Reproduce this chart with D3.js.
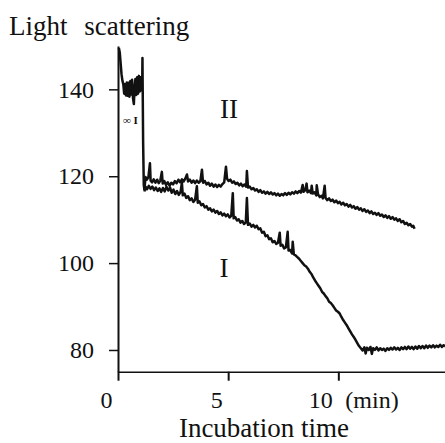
<!DOCTYPE html>
<html>
<head>
<meta charset="utf-8">
<script src="https://cdn.jsdelivr.net/npm/d3@7"></script>
<style>
  body { margin: 0; background: #fff; }
  svg { display: block; font-family: 'Liberation Serif', 'DejaVu Serif', serif; }
  .trace { fill: none; stroke: #111; stroke-width: 2.5; stroke-linejoin: round; }
  .axis path, .axis line { stroke: #111; }
</style>
</head>
<body>
<div id="chart"></div>
<script>
// minutes, light scattering
const initialTrace = [
  [0.04, 149.5], [0.08, 148.5], [0.12, 146], [0.16, 143.5], [0.2, 142], [0.24, 141.2],
  [0.28, 139.0], [0.32, 141.2], [0.36, 138.6], [0.4, 141.6], [0.44, 138.5], [0.48, 141.5],
  [0.52, 138.3], [0.56, 141.9], [0.6, 138.8], [0.64, 142.2], [0.68, 138.0], [0.72, 136.6],
  [0.75, 140.2], [0.79, 142.4], [0.83, 138.7], [0.87, 142.8], [0.91, 139.0], [0.95, 143.1],
  [0.99, 139.5], [1.03, 142.8], [1.07, 139.8], [1.1, 141.5], [1.11, 147.2], [1.14, 128],
  [1.17, 118.0], [1.2, 116.8],
];

const traceII = [
  [1.2, 117.0], [1.25, 119.8], [1.31, 119.2], [1.38, 119.8], [1.45, 123.0], [1.48, 119.0],
  [1.55, 118.6], [1.62, 119.3], [1.7, 118.5], [1.78, 119.2], [1.85, 118.4], [1.92, 119.0],
  [1.99, 121.0], [2.03, 118.3], [2.1, 118.9], [2.18, 118.0], [2.26, 118.6], [2.34, 117.8],
  [2.42, 118.5], [2.5, 118.1], [2.58, 118.9], [2.66, 118.4], [2.74, 119.2], [2.82, 118.6],
  [2.9, 119.3], [2.98, 118.8], [3.06, 119.5], [3.13, 120.4], [3.18, 118.8], [3.26, 119.2],
  [3.34, 118.5], [3.42, 119.0], [3.5, 118.4], [3.58, 119.0], [3.66, 118.5], [3.74, 118.9],
  [3.81, 121.5], [3.86, 118.5], [3.94, 118.9], [4.02, 118.1], [4.1, 118.5], [4.18, 117.8],
  [4.26, 118.3], [4.34, 117.6], [4.42, 118.1], [4.5, 117.5], [4.58, 118.0], [4.66, 117.6],
  [4.74, 118.2], [4.82, 118.6], [4.9, 122.2], [4.95, 119.4], [5.02, 118.9], [5.1, 119.2],
  [5.18, 118.5], [5.26, 118.8], [5.34, 118.2], [5.42, 118.5], [5.5, 117.9], [5.58, 118.3],
  [5.66, 117.7], [5.74, 118.1], [5.82, 117.6], [5.85, 121.2], [5.9, 117.4], [5.98, 117.6],
  [6.06, 117.0], [6.14, 117.3], [6.22, 116.7], [6.3, 117.0], [6.38, 116.4], [6.46, 116.8],
  [6.54, 116.2], [6.62, 116.5], [6.7, 116.0], [6.78, 116.4], [6.86, 115.9], [6.94, 116.3],
  [7.02, 115.8], [7.1, 116.1], [7.18, 115.6], [7.26, 116.0], [7.34, 115.5], [7.42, 115.9],
  [7.5, 115.6], [7.58, 116.1], [7.66, 115.7], [7.74, 116.2], [7.82, 115.8], [7.9, 116.3],
  [7.98, 116.0], [8.06, 116.5], [8.14, 116.1], [8.22, 116.6], [8.3, 116.2], [8.38, 118.0],
  [8.42, 116.4], [8.5, 116.8], [8.56, 118.3], [8.6, 116.3], [8.68, 116.7], [8.76, 116.1],
  [8.79, 117.8], [8.84, 116.0], [8.92, 116.3], [9.0, 115.6], [9.02, 117.9], [9.08, 115.8],
  [9.16, 115.2], [9.24, 115.5], [9.3, 114.9], [9.38, 117.8], [9.42, 115.0], [9.5, 114.5],
  [9.58, 114.9], [9.66, 114.3], [9.74, 114.6], [9.82, 114.0], [9.9, 114.4], [9.98, 113.8],
  [10.06, 114.1], [10.14, 113.5], [10.22, 113.9], [10.3, 113.3], [10.38, 113.6], [10.46, 113.0],
  [10.54, 113.4], [10.62, 112.8], [10.7, 113.1], [10.78, 112.5], [10.86, 112.9], [10.94, 112.3],
  [11.02, 112.6], [11.1, 112.0], [11.18, 112.4], [11.26, 111.8], [11.34, 112.1], [11.42, 111.5],
  [11.5, 111.9], [11.58, 111.3], [11.66, 111.6], [11.74, 111.1], [11.82, 111.5], [11.9, 110.9],
  [11.98, 111.2], [12.06, 110.6], [12.14, 111.0], [12.22, 110.4], [12.3, 110.8], [12.38, 110.2],
  [12.46, 110.6], [12.54, 110.0], [12.62, 110.3], [12.7, 109.7], [12.78, 110.1], [12.86, 109.4],
  [12.94, 109.7], [13.02, 109.0], [13.1, 109.3], [13.18, 108.7], [13.26, 109.0], [13.34, 108.4],
  [13.4, 108.6], [13.46, 107.9],
];

const traceI = [
  [1.2, 116.5], [1.25, 117.6], [1.32, 117.0], [1.4, 117.8], [1.48, 117.1], [1.56, 117.6],
  [1.64, 116.8], [1.72, 117.4], [1.8, 116.6], [1.88, 117.2], [1.96, 116.4], [2.04, 117.3],
  [2.12, 116.5], [2.2, 117.6], [2.28, 116.7], [2.36, 117.4], [2.44, 116.2], [2.52, 116.9],
  [2.6, 115.9], [2.68, 116.6], [2.76, 115.7], [2.84, 116.4], [2.9, 118.5], [2.94, 115.6],
  [3.02, 116.0], [3.1, 115.0], [3.18, 115.4], [3.26, 114.5], [3.34, 114.9], [3.42, 114.1],
  [3.5, 114.6], [3.58, 117.7], [3.62, 113.9], [3.7, 114.2], [3.78, 113.3], [3.86, 113.6],
  [3.94, 112.8], [4.02, 113.1], [4.1, 112.3], [4.18, 112.6], [4.26, 111.9], [4.34, 112.3],
  [4.42, 111.6], [4.5, 112.0], [4.58, 111.3], [4.66, 111.7], [4.74, 111.0], [4.82, 111.4],
  [4.9, 110.8], [4.98, 111.2], [5.06, 110.5], [5.14, 110.9], [5.21, 116.1], [5.25, 110.3],
  [5.32, 110.6], [5.4, 109.8], [5.48, 110.1], [5.56, 109.3], [5.64, 109.7], [5.72, 109.0],
  [5.8, 109.4], [5.85, 115.0], [5.9, 108.8], [5.98, 109.1], [6.06, 108.4], [6.14, 108.8],
  [6.22, 108.2], [6.3, 108.6], [6.38, 107.8], [6.46, 108.0], [6.54, 107.0], [6.62, 107.2],
  [6.7, 106.2], [6.78, 106.4], [6.86, 105.5], [6.94, 105.7], [7.02, 104.8], [7.1, 105.1],
  [7.18, 104.4], [7.26, 104.7], [7.34, 107.0], [7.38, 104.0], [7.46, 104.2], [7.54, 103.4],
  [7.62, 103.6], [7.7, 107.2], [7.74, 102.9], [7.82, 103.0], [7.9, 102.2], [7.93, 104.9],
  [7.98, 102.0], [8.06, 101.8], [8.14, 101.4], [8.22, 101.0], [8.3, 100.5], [8.38, 100.0],
  [8.46, 99.5], [8.54, 99.2], [8.62, 98.7], [8.7, 98.0], [8.78, 97.5], [8.86, 96.7],
  [8.94, 96.0], [9.02, 95.4], [9.1, 94.8], [9.18, 94.2], [9.26, 93.4], [9.34, 93.0],
  [9.42, 92.4], [9.5, 91.9], [9.58, 91.1], [9.66, 90.8], [9.74, 90.3], [9.82, 89.7],
  [9.9, 89.1], [9.98, 88.8], [10.06, 88.4], [10.14, 87.6], [10.22, 86.9], [10.3, 86.3],
  [10.38, 85.7], [10.46, 85.0], [10.54, 84.3], [10.62, 83.6], [10.7, 83.0], [10.78, 82.3],
  [10.86, 81.6], [10.94, 80.9], [11.02, 80.4], [11.1, 79.9], [11.18, 80.6], [11.24, 79.2],
  [11.3, 80.5], [11.38, 80.0], [11.46, 80.7], [11.52, 79.1], [11.58, 80.4], [11.66, 80.0],
  [11.74, 80.6], [11.82, 79.9], [11.9, 80.4], [11.98, 80.0], [12.06, 80.3], [12.14, 79.8],
  [12.22, 80.4], [12.3, 80.0], [12.38, 80.5], [12.46, 80.1], [12.54, 80.6], [12.62, 80.1],
  [12.7, 80.5], [12.78, 80.0], [12.86, 80.6], [12.94, 80.2], [13.02, 80.7], [13.1, 80.2],
  [13.18, 80.8], [13.26, 80.3], [13.34, 80.7], [13.42, 80.2], [13.5, 80.8], [13.58, 80.3],
  [13.66, 80.9], [13.74, 80.4], [13.82, 80.9], [13.9, 80.4], [13.98, 81.0], [14.06, 80.5],
  [14.14, 81.0], [14.22, 80.6], [14.3, 81.1], [14.38, 80.6], [14.46, 81.0], [14.54, 80.7],
  [14.62, 81.2], [14.7, 80.7], [14.78, 81.1], [14.84, 80.8],
];

const yTicks = [80, 100, 120, 140];
const xTicks = [0, 5, 10];
const curveLabels = [
  { text: 'II', t: 5.04, v: 133.4 },
  { text: 'I', t: 4.81, v: 96.8 },
];

const width = 445;
const height = 443;

const x = d3.scaleLinear().domain([0, 15]).range([118, 448.5]);
const y = d3.scaleLinear().domain([75, 150]).range([371.7, 45.9]);

const svg = d3.select('#chart')
  .append('svg')
  .attr('width', width)
  .attr('height', height);

// y axis
const yAxis = svg.append('g')
  .attr('class', 'axis axis-y')
  .attr('transform', `translate(${x(0)},0)`)
  .call(d3.axisLeft(y).tickValues(yTicks).tickSize(9).tickSizeOuter(0).tickPadding(15));
yAxis.select('.domain').attr('stroke-width', 2);
yAxis.selectAll('.tick line').attr('stroke-width', 1.5);
yAxis.selectAll('.tick text')
  .attr('font-family', 'Liberation Serif')
  .attr('font-size', 24)
  .attr('fill', '#111');

// x axis
const xAxis = svg.append('g')
  .attr('class', 'axis axis-x')
  .attr('transform', `translate(0,${y(75)})`)
  .call(d3.axisBottom(x).tickValues(xTicks).tickSize(9).tickSizeOuter(0));
xAxis.select('.domain').attr('stroke-width', 1.5);
xAxis.selectAll('.tick line').attr('stroke-width', 2);
xAxis.selectAll('.tick text')
  .attr('font-family', 'Liberation Serif')
  .attr('font-size', 24)
  .attr('fill', '#111')
  .attr('text-anchor', 'end')
  .attr('x', -6)
  .attr('y', 36)
  .attr('dy', 0);

svg.append('text')
  .attr('x', x(10) + 7)
  .attr('y', y(75) + 36)
  .attr('font-size', 24)
  .attr('fill', '#111')
  .text('(min)');

// traces
const line = d3.line()
  .x((d) => x(d[0]))
  .y((d) => y(d[1]));

[initialTrace, traceII, traceI].forEach((trace) => {
  svg.append('path')
    .datum(trace)
    .attr('class', 'trace')
    .attr('d', line);
});

// small mark under the initial trace
svg.append('text')
  .attr('x', 123)
  .attr('y', 124)
  .attr('font-size', 11)
  .attr('font-weight', 'bold')
  .attr('fill', '#111')
  .text('\u221e I');

svg.selectAll('.curve-label')
  .data(curveLabels)
  .join('text')
  .attr('class', 'curve-label')
  .attr('x', (d) => x(d.t))
  .attr('y', (d) => y(d.v))
  .attr('text-anchor', 'middle')
  .attr('font-size', 27)
  .attr('fill', '#111')
  .text((d) => d.text);

// titles
svg.append('text')
  .attr('x', 9)
  .attr('y', 35)
  .attr('font-size', 27)
  .attr('word-spacing', 10)
  .attr('fill', '#111')
  .text('Light scattering');

svg.append('text')
  .attr('x', 264)
  .attr('y', 437)
  .attr('text-anchor', 'middle')
  .attr('font-size', 27)
  .attr('fill', '#111')
  .text('Incubation time');
</script>
</body>
</html>
